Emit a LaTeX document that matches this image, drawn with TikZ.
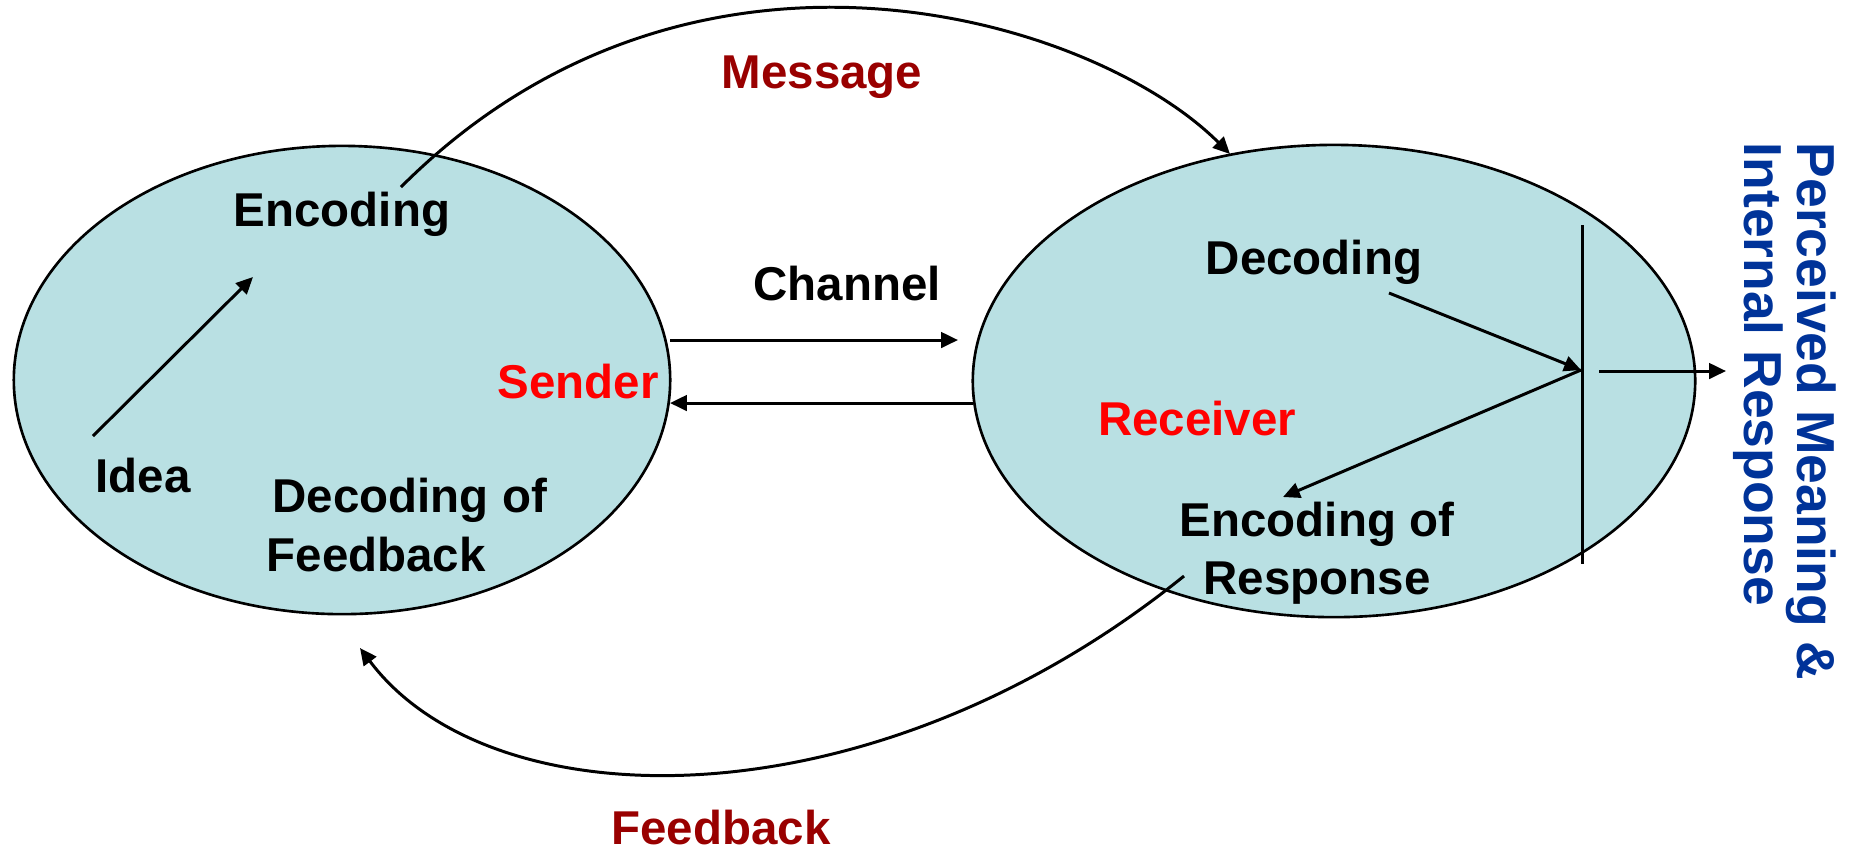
\documentclass[tikz,border=0pt]{standalone}
\usepackage{fontspec}
\setmainfont{Liberation Sans}
\usetikzlibrary{shapes.geometric,arrows.meta}
\definecolor{ellfill}{RGB}{185,224,227}
\definecolor{darkred}{RGB}{153,0,0}
\definecolor{brightred}{RGB}{255,0,0}
\definecolor{deepblue}{RGB}{0,51,153}
\tikzset{
  bubble/.style={ellipse, draw=black, line width=0.75pt, fill=ellfill, inner sep=0pt},
  lbl/.style={font=\fontsize{13.5}{16.5}\selectfont\bfseries, inner sep=0pt, text=black},
  redlbl/.style={lbl, text=brightred},
  darklbl/.style={lbl, text=darkred},
  vlbl/.style={font=\fontsize{15.2}{17}\selectfont\bfseries, inner sep=0pt, text=deepblue, rotate=-90, anchor=base west},
  conn/.style={line width=0.85pt, -{Triangle[length=4.8pt,width=4.4pt]}},
  plain/.style={line width=0.85pt}
}
\begin{document}
\begin{tikzpicture}[x=0.01cm,y=-0.01cm]
\path[use as bounding box] (0,0) rectangle (1854,850);
% ellipses
\node[bubble, minimum width=6.56cm, minimum height=4.68cm] (sendE) at (342,380) {};
\node[bubble, minimum width=7.22cm, minimum height=4.72cm] (recvE) at (1334,381) {};
% labels
\node[lbl] (enc) at (342,214) {Encoding};
\node[lbl] (chan) at (847,284) {Channel};
\node[redlbl] (sender) at (578,382) {Sender};
\node[lbl] (idea) at (143,476) {Idea};
\node[lbl, anchor=west] (decof) at (272,500) {Decoding of};
\node[lbl, anchor=west] (feedb) at (266,555) {Feedback};
\node[lbl] (dec) at (1314,262) {Decoding};
\node[redlbl] (receiver) at (1197,419) {Receiver};
\node[lbl, align=center] (encresp) at (1317,553) {Encoding of\\Response};
\node[darklbl] (msg) at (822,77) {Message};
\node[darklbl] (fb) at (721,828) {Feedback};
\node[vlbl] (perc) at (1797,142) {Perceived Meaning \&};
\node[vlbl] (intr) at (1744,142) {Internal Response};
% connector end points
\coordinate (ideaS) at (93,436);
\coordinate (encT) at (253,277);
\coordinate (msgS) at (401,187);
\coordinate (msgT) at (1230,154);
\coordinate (fbS) at (1184,576);
\coordinate (fbT) at (360,648);
\coordinate (chS) at (670,340);
\coordinate (chT) at (958,340);
\coordinate (rtS) at (973,403);
\coordinate (rtT) at (670,403);
\coordinate (decS) at (1389,293);
\coordinate (junc) at (1581,370);
\coordinate (respT) at (1283,497);
\coordinate (barTop) at (1582,225);
\coordinate (barBot) at (1582,564);
\coordinate (outS) at (1599,371);
\coordinate (outT) at (1726,371);
% connectors
\draw[conn] (ideaS) -- (encT);
\draw[conn] (msgS) .. controls (693,-105) and (1094,18) .. (msgT);
\draw[conn] (fbS) .. controls (872,828) and (492,824) .. (fbT);
\draw[conn] (chS) -- (chT);
\draw[conn] (rtS) -- (rtT);
\draw[conn] (decS) -- (junc);
\draw[conn] (junc) -- (respT);
\draw[plain] (barTop) -- (barBot);
\draw[conn] (outS) -- (outT);
\end{tikzpicture}
\end{document}
